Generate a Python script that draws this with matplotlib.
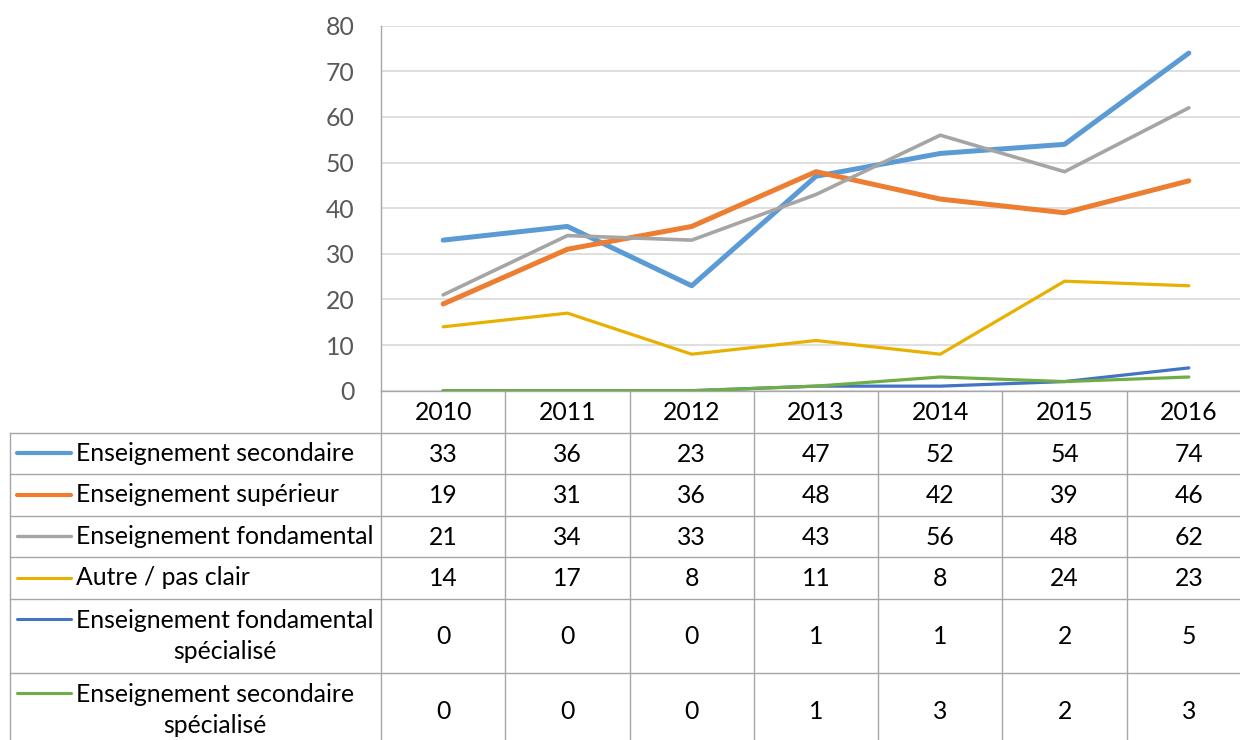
import numpy as np
import matplotlib
matplotlib.use("Agg")
import matplotlib.pyplot as plt
from matplotlib.lines import Line2D

# Data
years = ["2010", "2011", "2012", "2013", "2014", "2015", "2016"]
series_names = [
    "Enseignement secondaire",
    "Enseignement supérieur",
    "Enseignement fondamental",
    "Autre / pas clair",
    "Enseignement fondamental\nspécialisé",
    "Enseignement secondaire\nspécialisé",
]
secondaire = [33, 36, 23, 47, 52, 54, 74]
superieur = [19, 31, 36, 48, 42, 39, 46]
fondamental = [21, 34, 33, 43, 56, 48, 62]
autre = [14, 17, 8, 11, 8, 24, 23]
fondamental_spec = [0, 0, 0, 1, 1, 2, 5]
secondaire_spec = [0, 0, 0, 1, 3, 2, 3]
series_values = [secondaire, superieur, fondamental, autre, fondamental_spec, secondaire_spec]
y_ticks = [0, 10, 20, 30, 40, 50, 60, 70, 80]

# Style
colors = ["#5B9BD5", "#ED7D31", "#A5A5A5", "#E8B000", "#4472C4", "#70AD47"]
widths = [3.6, 3.6, 2.6, 2.3, 2.3, 2.3]
key_widths = [3.0, 3.0, 2.4, 2.2, 2.2, 2.2]
grid_col = "#A6A6A6"

plt.rcParams["font.family"] = ["Lato", "DejaVu Sans"]
FS = 17.8

W, H = 1240, 740
fig = plt.figure(figsize=(W / 100, H / 100), dpi=100)


def fx(x):
    return x / W


def fy(y):
    return 1 - y / H


# Plot area (pixels)
left, right, top, bottom = 381, 1251, 25.7, 390.7
col_w = (right - left) / len(years)

ax = fig.add_axes([fx(left), fy(bottom), fx(right - left), (bottom - top) / H])
x = np.arange(len(years))
for vals, c, lw in zip(series_values, colors, widths):
    ax.plot(x, vals, color=c, lw=lw, solid_capstyle="round", solid_joinstyle="round", zorder=3)

ax.set_xlim(-0.5, len(years) - 0.5)
ax.set_ylim(0, 80)
ax.set_yticks(y_ticks)
ax.set_xticks([])
ax.yaxis.grid(True, color="#D9D9D9", lw=1.2)
ax.set_axisbelow(True)
ax.tick_params(axis="y", length=0, pad=19, labelsize=FS, labelcolor="#595959")
for s in ["top", "right"]:
    ax.spines[s].set_visible(False)
for s in ["left", "bottom"]:
    ax.spines[s].set_color(grid_col)
    ax.spines[s].set_linewidth(1.0)


def hline(y, x0, x1):
    fig.add_artist(Line2D([fx(x0), fx(x1)], [fy(y), fy(y)], color=grid_col, lw=1.0,
                          transform=fig.transFigure))


def vline(x, y0, y1):
    fig.add_artist(Line2D([fx(x), fx(x)], [fy(y0), fy(y1)], color=grid_col, lw=1.0,
                          transform=fig.transFigure))


# Data table
label_left = 10
header_bottom = 432.5
row_tops = [header_bottom]
for name in series_names:
    h = 74.5 if "\n" in name else 41.5
    row_tops.append(row_tops[-1] + h)
table_bottom = row_tops[-1]

for i in range(len(years) + 1):
    vline(left + i * col_w, bottom, table_bottom)
vline(label_left, header_bottom, table_bottom)
for y in row_tops:
    hline(y, label_left, right + 5)

# year header
for i, yr in enumerate(years):
    fig.text(fx(left + (i + 0.5) * col_w), fy((bottom + header_bottom) / 2 + 1), yr,
             ha="center", va="center", fontsize=FS, color="black")

# rows
for r, (name, vals, c, kw) in enumerate(zip(series_names, series_values, colors, key_widths)):
    y0, y1 = row_tops[r], row_tops[r + 1]
    yc = (y0 + y1) / 2
    fig.text(fx(76), fy(yc), name, ha="left", va="center", multialignment="center",
             fontsize=FS, color="black", linespacing=1.42)
    key_y = yc if "\n" not in name else y0 + 20
    fig.add_artist(Line2D([fx(17), fx(71)], [fy(key_y), fy(key_y)], color=c, lw=kw,
                          solid_capstyle="round", transform=fig.transFigure))
    for i, v in enumerate(vals):
        fig.text(fx(left + (i + 0.5) * col_w), fy(yc + 1), str(v), ha="center", va="center",
                 fontsize=FS, color="black")

fig.savefig("out.png", dpi=100)
